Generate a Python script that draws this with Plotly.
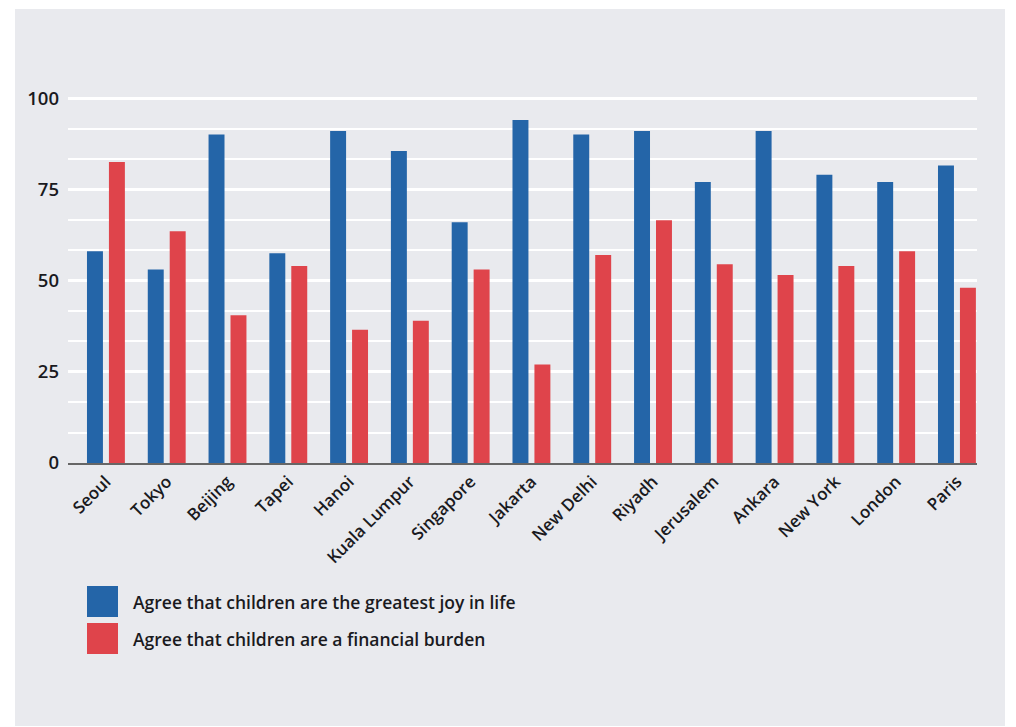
import plotly.graph_objects as go

cities = ["Seoul", "Tokyo", "Beijing", "Tapei", "Hanoi", "Kuala Lumpur", "Singapore",
          "Jakarta", "New Delhi", "Riyadh", "Jerusalem", "Ankara", "New York", "London", "Paris"]
joy = [58, 53, 90, 57.5, 91, 85.5, 66, 94, 90, 91, 77, 91, 79, 77, 81.5]
burden = [82.5, 63.5, 40.5, 54, 36.5, 39, 53, 27, 57, 66.5, 54.5, 51.5, 54, 58, 48]
series_names = ["Agree that children are the greatest joy in life",
                "Agree that children are a financial burden"]
colors = ["#2465a8", "#df444b"]
ytick_vals = [0, 25, 50, 75, 100]

W, H = 1016, 727
L, R, T, B = 68, 1016 - 977, 97, 727 - 463
pw, ph = W - L - R, H - T - B

def px_x(px):
    return (px - L) / pw

def px_y(py):
    return (H - B - py) / ph

fig = go.Figure()
for name, vals, col in zip(series_names, [joy, burden], colors):
    fig.add_trace(go.Bar(x=cities, y=vals, name=name, marker_color=col,
                         marker_line_width=0, showlegend=False))

font_fam = "'Open Sans', Lato, sans-serif"
txt_col = "#1a1a1e"
wt = 600

# background panel
shapes = [dict(type="rect", xref="paper", yref="paper", layer="below",
               x0=px_x(15), x1=px_x(1005), y0=px_y(726), y1=px_y(9),
               fillcolor="#e9eaee", line_width=0)]
annotations = []
# custom legend
for i, (name, col) in enumerate(zip(series_names, colors)):
    top = 586 + i * 37
    shapes.append(dict(type="rect", xref="paper", yref="paper",
                       x0=px_x(87), x1=px_x(118), y0=px_y(top + 31), y1=px_y(top),
                       fillcolor=col, line_width=0))
    annotations.append(dict(xref="paper", yref="paper", x=px_x(131), y=px_y(top + 15.5),
                            text=name, showarrow=False, xanchor="left", yanchor="middle",
                            font=dict(size=17.5, color=txt_col, family=font_fam, weight=wt)))

fig.update_layout(
    width=W, height=H,
    margin=dict(l=L, r=R, t=T, b=B, pad=0),
    paper_bgcolor="white",
    plot_bgcolor="rgba(0,0,0,0)",
    barmode="group",
    bargap=0.278,
    bargroupgap=0.273,
    font=dict(family=font_fam, color=txt_col),
    shapes=shapes,
    annotations=annotations,
    xaxis=dict(
        type="category",
        range=[-0.624, 14.33],
        tickangle=-45,
        tickfont=dict(size=17, color=txt_col, weight=wt),
        showgrid=False,
        showline=True, linecolor="#666666", linewidth=2,
        ticks="",
    ),
    yaxis=dict(
        range=[0, 100.3],
        tickvals=ytick_vals,
        tickfont=dict(size=18.5, color=txt_col, weight=wt),
        showgrid=True, gridcolor="white", gridwidth=2.5,
        zeroline=False,
        ticklabelstandoff=8,
        minor=dict(dtick=25 / 3, tick0=0, showgrid=True, gridcolor="white", gridwidth=1.5),
    ),
)

fig.write_html("out.html")
